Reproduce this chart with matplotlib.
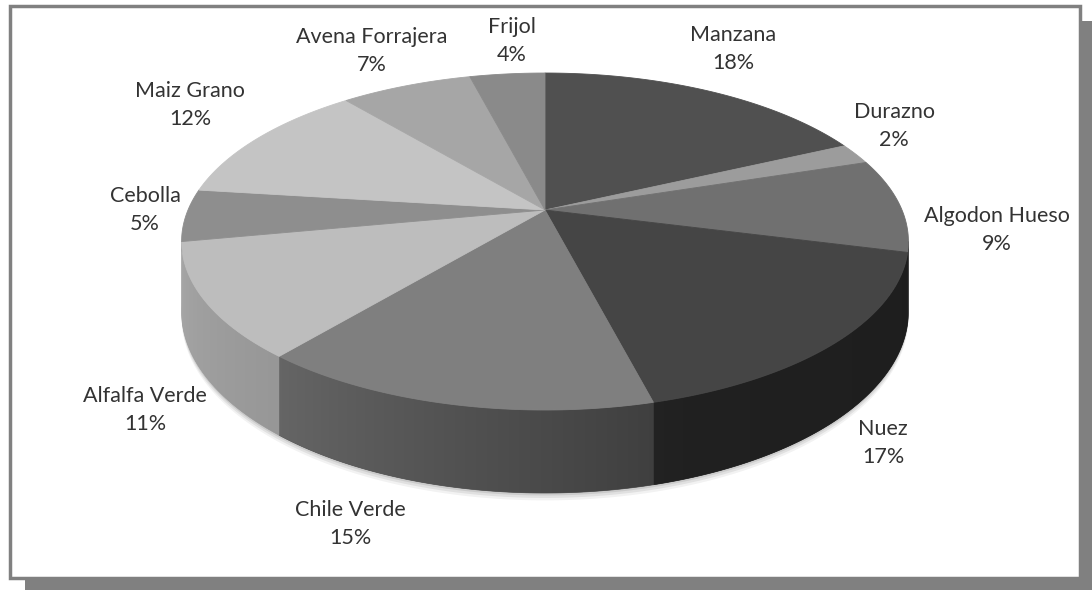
import numpy as np
import matplotlib
matplotlib.use("Agg")
import matplotlib.pyplot as plt
from matplotlib.patches import Polygon, Rectangle

# data
categories = ["Manzana", "Durazno", "Algodon Hueso", "Nuez", "Chile Verde",
              "Alfalfa Verde", "Cebolla", "Maiz Grano", "Avena Forrajera", "Frijol"]
percent = [18, 2, 9, 17, 15, 11, 5, 12, 7, 4]
top_colors = ["#505050", "#9c9c9c", "#707070", "#454545", "#7f7f7f",
              "#bdbdbd", "#8e8e8e", "#c4c4c4", "#a6a6a6", "#8a8a8a"]

# label centres (pixels), layout only
label_pos = [(733, 49), (894, 126), (997, 230), (883, 443), (350, 524),
             (145, 410), (145, 210), (190, 105), (372, 51), (512, 41)]

# projection of the pie (pixels)
X0, Y0 = 545, 210
A, B, K = 357, 162.6, 0.187
H = 67.5


def proj(theta, drop=0.0):
    t = np.radians(theta)
    x, z = np.sin(t), np.cos(t)
    s = 1.0 / (1.0 + K * z)
    return X0 + A * x * s, Y0 - B * z * s + drop * s


def shade(theta):
    return np.interp(theta, [90, 160, 220, 270], [0.42, 0.47, 0.80, 0.90])


fig = plt.figure(figsize=(10.92, 5.90), dpi=100)
ax = fig.add_axes([0, 0, 1, 1])
ax.axis("off")

# frame and drop shadow
ax.add_patch(Rectangle((25, 579), 1067, 11, color="#808080", lw=0, zorder=0))
ax.add_patch(Rectangle((1082, 21), 10, 569, color="#808080", lw=0, zorder=0))
ax.add_patch(Rectangle((9.5, 5.5), 1070, 572, facecolor="white",
                       edgecolor="#808080", lw=2.5, zorder=0))

edges = np.concatenate([[0], np.cumsum(percent)]) / sum(percent) * 360
th_lo = np.degrees(np.arccos(-K))
th_hi = 360 - th_lo

# soft shadow under the pie
ts = np.linspace(th_lo, th_hi, 200)
for off, a in [(6, 0.05), (4, 0.07), (2, 0.09)]:
    bx, by = proj(ts, H + off)
    tx, ty = proj(ts[::-1], H - 10)
    ax.add_patch(Polygon(np.c_[np.r_[bx, tx], np.r_[by, ty]], closed=True,
                         color="black", alpha=a, lw=0, zorder=1))

# side walls with horizontal gradient
for i in range(len(percent)):
    a0, a1 = max(edges[i], th_lo), min(edges[i + 1], th_hi)
    if a1 <= a0:
        continue
    tt = np.linspace(a0, a1, 120)
    tx, ty = proj(tt)
    bx, by = proj(tt[::-1], H)
    pts = np.c_[np.r_[tx, bx], np.r_[ty, by]]
    base = np.array(matplotlib.colors.to_rgb(top_colors[i]))
    mid = base * shade(0.5 * (a0 + a1))
    wall = Polygon(pts, closed=True, facecolor=mid, edgecolor=mid, lw=0.5, zorder=2)
    ax.add_patch(wall)
    xs = np.linspace(pts[:, 0].min(), pts[:, 0].max(), 200)
    bxs, _ = proj(tt, H)
    order = np.argsort(bxs)
    f = np.interp(xs, bxs[order], shade(tt[order]))
    img = np.clip(base[None, None, :] * f[None, :, None], 0, 1)
    im = ax.imshow(img, extent=[xs[0], xs[-1], pts[:, 1].max(), pts[:, 1].min()],
                   aspect="auto", interpolation="bilinear", zorder=3)
    im.set_clip_path(wall)

# top faces
for i in range(len(percent)):
    tt = np.linspace(edges[i], edges[i + 1], max(3, int(percent[i] * 6)))
    px, py = proj(tt)
    pts = np.c_[np.r_[X0, px], np.r_[Y0, py]]
    ax.add_patch(Polygon(pts, closed=True, facecolor=top_colors[i],
                         edgecolor=top_colors[i], lw=0.6, zorder=4))

# labels
for name, p, (lx, ly) in zip(categories, percent, label_pos):
    ax.text(lx, ly, f"{name}\n{p}%", ha="center", va="center", fontsize=15.5,
            family="Lato", color="#333333", linespacing=1.55, zorder=5)

ax.set_xlim(0, 1092)
ax.set_ylim(590, 0)
fig.savefig("out.png", dpi=100)
